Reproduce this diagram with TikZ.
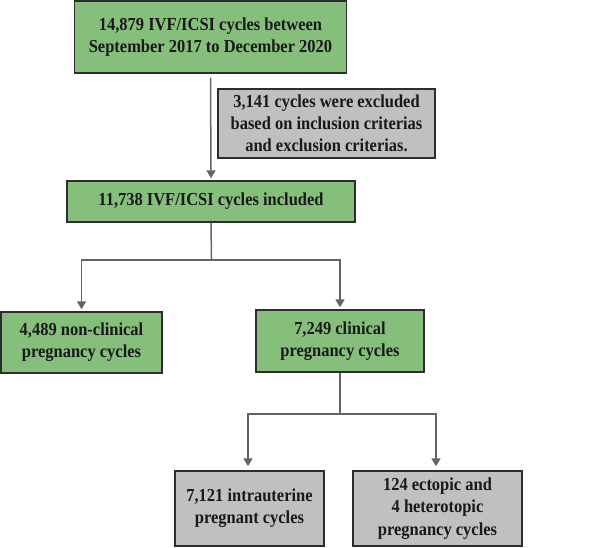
\documentclass[tikz,border=0pt]{standalone}
\usepackage{fontspec}
\setmainfont[FakeStretch=0.9]{Liberation Serif}
\usetikzlibrary{arrows.meta}
\definecolor{boxgreen}{RGB}{134,191,124}
\definecolor{boxgray}{RGB}{192,192,192}
\definecolor{edgecol}{RGB}{45,45,45}
\definecolor{linecol}{RGB}{100,100,100}
\tikzset{
  box/.style={draw=edgecol, line width=1.4pt, align=center, inner sep=0pt,
    font=\fontsize{18.3}{22.2}\selectfont\bfseries, text=black!90},
  gbox/.style={box, fill=boxgreen},
  ybox/.style={box, fill=boxgray},
  conn/.style={draw=linecol, line width=1.5pt},
  arr/.style={conn, -{Triangle[length=8pt,width=9pt]}, shorten >=2pt},
}
\begin{document}
\begin{tikzpicture}[x=1pt,y=-1pt]
\useasboundingbox (0,0) rectangle (595,548);
\node[gbox, minimum width=272pt, minimum height=72pt] (b1) at (210.5,37) {14,879 IVF/ICSI cycles between\\September 2017 to December 2020};
\node[ybox, minimum width=217pt, minimum height=69pt] (ex) at (326.5,123.5) {3,141 cycles were excluded\\based on inclusion criterias\\and exclusion criterias.};
\node[gbox, minimum width=288pt, minimum height=41pt] (b2) at (211,201.5) {11,738 IVF/ICSI cycles included};
\node[gbox, minimum width=161pt, minimum height=61pt] (b3) at (81.5,342.5) {4,489 non-clinical\\pregnancy cycles};
\node[gbox, minimum width=168pt, minimum height=62pt] (b4) at (340,341) {7,249 clinical\\pregnancy cycles};
\node[ybox, minimum width=149pt, minimum height=75pt] (b5) at (249.5,508.5) {7,121 intrauterine\\pregnant cycles};
\node[ybox, minimum width=169pt, minimum height=75pt] (b6) at (437.5,508.5) {124 ectopic and\\4 heterotopic\\pregnancy cycles};
\coordinate (j1) at (211.5,260);
\coordinate (j2) at (340,414);
\draw[arr, shorten <=4pt] (b1.south) -- (b2.north);
\draw[conn] (b2.south) -- (j1);
\draw[arr] (j1) -| (b3.north);
\draw[arr] (j1) -| (b4.north);
\draw[conn] (b4.south) -- (j2);
\draw[arr, shorten >=4pt] (j2) -| ([xshift=-1.5pt]b5.north);
\draw[arr, shorten >=4pt] (j2) -| ([xshift=-1.5pt]b6.north);
\end{tikzpicture}
\end{document}
